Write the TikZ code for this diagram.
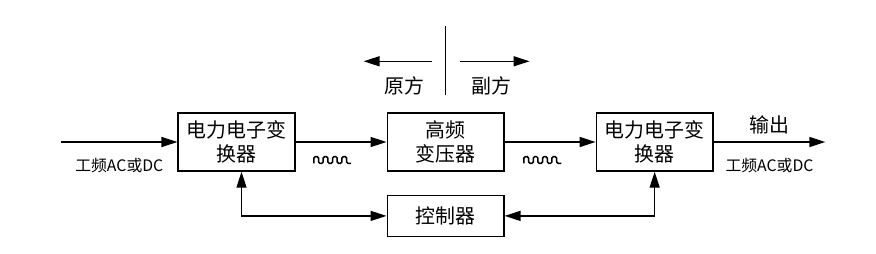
\documentclass[tikz,border=0pt]{standalone}
\usepackage{fontspec}
\newfontfamily\cjk{Noto Sans CJK SC}
\usetikzlibrary{arrows.meta, positioning}

\begin{document}
\begin{tikzpicture}[
  node distance=6.9mm and 27.3mm,
  box/.style={draw, minimum height=17.4mm, minimum width=35mm, inner sep=1pt,
    align=center, font=\cjk\fontsize{17}{20}\selectfont},
  lbl/.style={font=\cjk\fontsize{17}{20}\selectfont},
  small/.style={font=\cjk\fontsize{13.5}{15}\selectfont},
  sqwave/.pic={\draw[rounded corners=1.2pt, line width=1.3pt] (-0.56,-0.1)
    foreach \k in {1,...,4} {-- ++(0,0.2) -- ++(0.14,0) -- ++(0,-0.2) -- ++(0.14,0)};},
  >={Triangle[length=4.8mm, width=3mm]}, line width=1.2pt
]
\useasboundingbox (0,0) rectangle (26.28,7.59);
\node[box] (pe1) at (7.095,3.33) {电力电子变\\换器};
\node[box, right=of pe1] (hfx) {高频\\变压器};
\node[box, right=of hfx] (pe2) {电力电子变\\换器};
\node[box, below=of hfx, minimum height=12.3mm] (ctrl) {控制器};
\coordinate[left=34.9mm of pe1] (vin);
\coordinate[right=33.5mm of pe2] (vout);
\coordinate[above=5.1mm of hfx] (sepb);
\coordinate[above=25.8mm of hfx] (sept);
\coordinate[above left=15.3mm and 4.2mm of hfx.north] (pa1);
\coordinate[above left=15.3mm and 24.6mm of hfx.north] (pa2);
\coordinate[above right=15.3mm and 4.2mm of hfx.north] (sa1);
\coordinate[above right=15.3mm and 25.2mm of hfx.north] (sa2);
\node[lbl] (prim) at ([shift={(-1.23,0.78)}]hfx.north) {原方};
\node[lbl] (sec) at ([shift={(1.38,0.78)}]hfx.north) {副方};
% high frequency square waves
\pic at ([shift={(1.11,-0.54)}]pe1.east) {sqwave};
\pic at ([shift={(1.14,-0.54)}]hfx.east) {sqwave};
\draw[->] (vin) -- node[small, yshift=-7.2mm] (inlbl) {工频AC或DC} (pe1);
\draw[->] (pe1) -- (hfx);
\draw[->] (hfx) -- (pe2);
\draw[->] (pe2) -- node[lbl, yshift=5.1mm] (outtxt) {输出}
  node[small, yshift=-7.2mm] (outlbl) {工频AC或DC} (vout);
\draw[<->] ([xshift=1.5mm]pe1.south) |- (ctrl.west);
\draw[<->] (pe2.south) |- (ctrl.east);
\draw (sepb) -- (sept);
\draw[->] (pa1) -- (pa2);
\draw[->] (sa1) -- (sa2);
\end{tikzpicture}
\end{document}
